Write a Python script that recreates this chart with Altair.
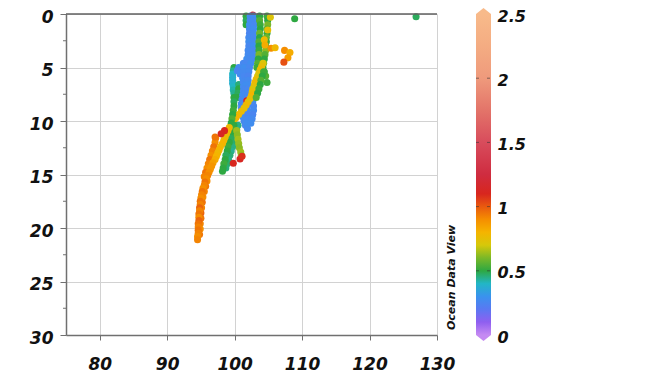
import altair as alt
import pandas as pd

# ---- measured tracks: (x, depth, value) ----
top_specks = [(102.7, 0.1, 1.1), (101.7, 0.2, 0.5), (101.7, 0.6, 0.48), (101.7, 1.0, 0.5)]

cyan_trace = [
    (99.9, 5.0, 0.5), (99.8, 5.3, 0.44), (99.7, 5.6, 0.4), (99.7, 5.9, 0.38), (99.7, 6.2, 0.38),
    (99.7, 6.5, 0.38), (99.8, 6.8, 0.4), (99.8, 7.1, 0.42), (99.9, 7.4, 0.44),
]

cyan_companion = [(100.6, 6.6, 0.46), (100.6, 7.0, 0.5), (100.5, 7.4, 0.48), (100.5, 7.8, 0.5)]

blue_left = [
    (102.3, 0.2, 0.27), (102.3, 0.6, 0.26), (102.2, 1.0, 0.28), (102.2, 1.4, 0.27), (102.2, 1.8, 0.25),
    (102.1, 2.2, 0.27), (102.1, 2.6, 0.28), (102.1, 3.0, 0.26), (102.0, 3.4, 0.27), (102.0, 3.8, 0.27),
    (101.8, 4.2, 0.28), (101.3, 4.6, 0.26), (100.6, 5.0, 0.27), (100.4, 5.3, 0.25), (100.8, 5.6, 0.27),
    (101.2, 6.0, 0.28), (101.3, 6.4, 0.26), (101.3, 6.8, 0.27), (101.3, 7.2, 0.27), (101.2, 7.6, 0.28),
    (101.1, 8.0, 0.26), (101.0, 8.4, 0.27), (101.0, 8.8, 0.25), (101.1, 9.2, 0.27), (101.2, 9.6, 0.28),
    (101.4, 10.0, 0.27), (101.6, 10.4, 0.26), (101.9, 10.7, 0.27),
]

blue_mid = [
    (102.2, 4.2, 0.27), (101.9, 4.6, 0.26), (101.4, 5.0, 0.28), (101.3, 5.4, 0.27), (101.4, 5.8, 0.26),
    (101.6, 6.2, 0.27), (101.7, 6.6, 0.28), (101.7, 7.0, 0.26), (101.6, 7.4, 0.27), (101.6, 7.8, 0.27),
    (101.9, 8.2, 0.28), (101.9, 8.6, 0.26), (101.9, 9.0, 0.27), (101.9, 9.4, 0.25), (101.9, 9.8, 0.27),
    (101.9, 10.2, 0.28),
]

blue_right = [
    (102.8, 0.2, 0.28), (102.9, 0.6, 0.27), (102.9, 1.0, 0.26), (102.8, 1.4, 0.28), (102.8, 1.8, 0.27),
    (102.8, 2.2, 0.26), (102.8, 2.6, 0.27), (102.8, 3.0, 0.28), (102.7, 3.4, 0.26), (102.7, 3.8, 0.27),
    (102.6, 4.2, 0.27), (102.4, 4.6, 0.28), (102.2, 5.0, 0.26), (102.1, 5.4, 0.27), (102.0, 5.8, 0.25),
    (102.0, 6.2, 0.27), (102.0, 6.6, 0.28), (102.0, 7.0, 0.26), (101.9, 7.4, 0.27), (101.9, 7.8, 0.27),
    (102.7, 8.2, 0.28), (102.8, 8.6, 0.26), (102.8, 9.0, 0.27), (102.7, 9.4, 0.25), (102.6, 9.8, 0.27),
    (102.4, 10.2, 0.28),
]

red_small = [(101.8, 8.1, 1.12)]

green_inner = [
    (103.7, 0.2, 0.5), (103.7, 0.6, 0.55), (103.8, 1.0, 0.52), (103.8, 1.4, 0.5), (103.7, 1.8, 0.58),
    (103.7, 2.2, 0.5), (103.6, 2.6, 0.55), (103.6, 3.0, 0.5), (103.6, 3.4, 0.52), (103.6, 3.8, 0.6),
    (103.5, 4.2, 0.5), (103.4, 4.6, 0.55), (103.3, 5.0, 0.52),
]

green_outer = [
    (104.8, 0.2, 0.52), (104.9, 0.6, 0.5), (104.9, 1.0, 0.6), (104.8, 1.4, 0.55), (104.8, 1.8, 0.5),
    (104.7, 2.2, 0.58), (104.7, 2.6, 0.52), (104.6, 3.0, 0.5), (104.6, 3.4, 0.62), (104.5, 3.8, 0.55),
    (104.4, 4.2, 0.5), (104.3, 4.6, 0.58), (104.2, 5.0, 0.52), (104.4, 5.4, 0.5), (104.6, 5.8, 0.55),
    (104.8, 6.4, 0.52),
]

yellow_spots = [(105.3, 0.3, 0.72), (104.9, 1.5, 0.75), (104.4, 2.4, 0.78), (104.5, 2.9, 0.82),
                (105.4, 3.2, 0.9), (106.0, 3.15, 0.78)]

stripe_upper = [
    (104.2, 4.6, 0.72), (104.0, 4.9, 0.75), (103.8, 5.2, 0.78), (103.6, 5.5, 0.74), (103.4, 5.8, 0.72),
    (103.2, 6.1, 0.76), (103.0, 6.4, 0.78), (102.9, 6.7, 0.75), (102.7, 7.0, 0.72), (102.6, 7.3, 0.76),
    (102.5, 7.6, 0.8), (102.3, 7.9, 0.76), (102.0, 8.2, 0.74), (101.7, 8.5, 0.78), (101.4, 8.8, 0.75),
    (101.0, 9.1, 0.76), (100.6, 9.4, 0.78), (100.2, 9.7, 0.8), (99.9, 10.0, 0.78), (99.5, 10.3, 0.76),
]

green_right_low = [(104.3, 5.4, 0.52), (104.1, 5.8, 0.5), (103.9, 6.2, 0.55), (103.8, 6.6, 0.5),
                   (103.6, 7.0, 0.52), (103.4, 7.4, 0.5), (103.2, 7.8, 0.55)]

green_mid = [(99.9, 7.8, 0.5), (99.9, 8.2, 0.48), (99.9, 8.6, 0.5), (99.8, 9.0, 0.52), (99.7, 9.4, 0.5),
             (99.6, 9.8, 0.55), (99.5, 10.2, 0.5)]

green_low_b = [
    (100.5, 10.4, 0.45), (100.3, 10.8, 0.44), (100.2, 11.2, 0.46), (100.0, 11.6, 0.45), (99.8, 12.0, 0.47),
    (99.7, 12.4, 0.45), (99.5, 12.8, 0.44), (99.3, 13.2, 0.46), (99.1, 13.6, 0.45), (98.9, 14.0, 0.47),
    (98.7, 14.4, 0.46),
]

green_low_a = [
    (99.9, 10.4, 0.5), (99.7, 10.8, 0.52), (99.5, 11.2, 0.5), (99.4, 11.6, 0.48), (99.2, 12.0, 0.5),
    (99.0, 12.4, 0.52), (98.9, 12.8, 0.5), (98.7, 13.2, 0.48), (98.6, 13.6, 0.5), (98.4, 14.0, 0.52),
    (98.3, 14.4, 0.5), (98.2, 14.7, 0.5),
]

stripe_west = [
    (97.2, 11.6, 0.92), (97.1, 12.0, 0.9), (96.9, 12.4, 0.95), (96.7, 12.8, 0.92), (96.5, 13.2, 0.9),
    (96.3, 13.6, 0.95), (96.1, 14.0, 0.92), (95.9, 14.4, 0.9), (95.7, 14.8, 0.95), (95.5, 15.2, 0.92),
]

lower_twin = [
    (95.9, 15.6, 0.9), (95.7, 16.1, 0.95), (95.5, 16.6, 0.92), (95.3, 17.1, 0.9), (95.2, 17.6, 0.95),
    (95.1, 18.1, 0.92), (95.0, 18.6, 0.98), (95.0, 19.1, 0.95), (94.9, 19.6, 0.92), (94.9, 20.1, 0.9),
    (94.8, 20.6, 0.95),
]

stripe_lower = [
    (99.2, 10.6, 0.78), (99.0, 10.9, 0.8), (98.8, 11.2, 0.78), (98.6, 11.5, 0.76), (98.4, 11.8, 0.78),
    (98.2, 12.1, 0.8), (97.9, 12.4, 0.78), (97.7, 12.7, 0.8), (97.5, 13.0, 0.78), (97.3, 13.3, 0.8),
    (97.1, 13.6, 0.82), (96.8, 13.9, 0.85), (96.6, 14.2, 0.88), (96.4, 14.5, 0.88), (96.2, 14.8, 0.9),
    (96.0, 15.1, 0.92), (95.8, 15.4, 0.9), (95.6, 15.7, 0.95), (95.5, 16.0, 0.92), (95.3, 16.3, 0.9),
    (95.2, 16.6, 0.95), (95.1, 16.9, 0.92), (95.0, 17.2, 0.9), (94.9, 17.5, 0.95), (94.9, 17.8, 0.92),
    (94.8, 18.1, 0.98), (94.8, 18.4, 0.92), (94.7, 18.7, 0.95), (94.7, 19.0, 0.9), (94.7, 19.3, 0.98),
    (94.6, 19.6, 0.95), (94.6, 19.9, 0.92), (94.6, 20.2, 0.95), (94.6, 20.5, 0.92), (94.5, 20.8, 0.9),
    (94.5, 21.1, 0.92),
]

light_green = [(100.3, 10.9, 0.64), (100.4, 11.3, 0.62), (100.5, 11.7, 0.65), (100.6, 12.1, 0.63),
               (100.7, 12.5, 0.62), (100.9, 12.9, 0.64), (101.0, 13.2, 0.62)]

red_points = [(97.1, 11.5, 0.95), (98.5, 10.9, 1.1), (98.0, 11.2, 1.12),
              (99.8, 13.95, 1.1), (100.8, 13.55, 1.12), (101.1, 13.3, 1.08)]

east_cluster = [(107.4, 3.4, 0.9), (108.2, 3.6, 0.82), (107.9, 4.1, 0.86), (107.3, 4.5, 1.02)]

isolated = [(108.9, 0.45, 0.5), (126.9, 0.25, 0.48)]

# drawing order, back to front
tracks = [top_specks, cyan_trace, cyan_companion, blue_left, blue_mid, blue_right, red_small,
          green_inner, green_outer, yellow_spots, stripe_upper, green_right_low, green_mid,
          green_low_b, green_low_a, stripe_west, lower_twin, stripe_lower, light_green, red_points,
          east_cluster, isolated]

# ---- colour bar definition ----
cb_stops = [0.0, 0.1, 0.2, 0.3, 0.4, 0.5, 0.6, 0.7, 0.8, 0.9, 1.0, 1.1, 1.25, 1.5, 1.75, 2.0, 2.25, 2.5]
cb_colors = ["#c58af2", "#8f5ff0", "#5a78f2", "#3a92ee", "#22b6c6", "#2ea842", "#7ab828", "#d6c80a",
             "#f5b400", "#f58e00", "#e95a0f", "#d8261e", "#cf2c40", "#d84c5c", "#e37469", "#ef9a7c",
             "#f4ac82", "#f8ba8a"]
cb_labels = [0, 0.5, 1, 1.5, 2, 2.5]
cb_inner_ticks = [0.5, 1, 1.5, 2]

x_ticks = [80, 90, 100, 110, 120, 130]
y_ticks = [0, 5, 10, 15, 20, 25, 30]
y_minor = [2.5, 7.5, 12.5, 17.5, 22.5, 27.5]

rows = [{"x": x, "depth": d, "val": v} for tr in tracks for (x, d, v) in tr]
points = pd.DataFrame(rows)
points["order"] = range(len(points))

W, H = 371, 321
FONT = "DejaVu Sans"

y_axis = alt.Axis(values=y_ticks, title=None, grid=True, gridColor="#d2d2d2", gridWidth=1,
                  domainColor="#707070", domainWidth=1.5, tickColor="#707070", tickSize=6,
                  labelFont=FONT, labelFontSize=17, labelFontWeight="bold", labelFontStyle="italic",
                  labelColor="#111111", labelPadding=7, labelOffset=3)
x_axis = alt.Axis(values=x_ticks, title=None, grid=True, gridColor="#d2d2d2", gridWidth=1,
                  domainColor="#707070", domainWidth=1.5, tickColor="#707070", tickSize=5,
                  labelFont=FONT, labelFontSize=17, labelFontWeight="bold", labelFontStyle="italic",
                  labelColor="#111111", labelPadding=16, labelFlush=False)

x_scale = alt.Scale(domain=[75, 130], nice=False, zero=False)
y_scale = alt.Scale(domain=[0, 30], reverse=True, nice=False, zero=False)

scatter = alt.Chart(points).mark_circle(size=50, opacity=1).encode(
    x=alt.X("x:Q", scale=x_scale, axis=x_axis),
    y=alt.Y("depth:Q", scale=y_scale, axis=y_axis),
    color=alt.Color("val:Q", scale=alt.Scale(domain=cb_stops, range=cb_colors, interpolate="rgb"),
                    legend=None),
    order=alt.Order("order:Q"),
)

minor = alt.Chart(pd.DataFrame({"depth": y_minor})).mark_rule(color="#707070", strokeWidth=1).encode(
    y=alt.Y("depth:Q", scale=y_scale, axis=y_axis),
    x=alt.value(-3), x2=alt.value(0),
)

top_edge = alt.Chart(pd.DataFrame({"depth": [0]})).mark_rule(color="#606060", strokeWidth=1.5).encode(
    y=alt.Y("depth:Q", scale=y_scale, axis=y_axis),
)

plot_group = alt.layer(scatter, minor, top_edge)

# ---- colour bar ----
BAR_L, BAR_R = 410, 425
cb_scale = alt.Scale(domain=[0, 2.5], nice=False, zero=False)
cb_axis = alt.Axis(values=cb_labels, format="~g", orient="right", offset=BAR_R - W, title=None,
                   domain=False, ticks=False, grid=False, labelPadding=6, labelOffset=2,
                   labelFont=FONT, labelFontSize=16, labelFontWeight="bold", labelFontStyle="italic",
                   labelColor="#111111")

gradient = alt.Gradient(
    gradient="linear",
    stops=[alt.GradientStop(offset=s / 2.5, color=c) for s, c in zip(cb_stops, cb_colors)],
    x1=0, x2=0, y1=1, y2=0,
)

bar = alt.Chart(pd.DataFrame({"lo": [0.0], "hi": [2.5]})).mark_rect(color=gradient).encode(
    y=alt.Y("lo:Q", scale=cb_scale, axis=cb_axis),
    y2="hi:Q",
    x=alt.value(BAR_L), x2=alt.value(BAR_R),
)

tri_up = alt.Chart(pd.DataFrame({"lo": [2.5]})).mark_point(
    shape="M-1,0L0,-0.8L1,0Z", filled=True, size=225, opacity=1, color=cb_colors[-1], strokeWidth=0
).encode(y=alt.Y("lo:Q", scale=cb_scale, axis=cb_axis), x=alt.value((BAR_L + BAR_R) / 2))

tri_down = alt.Chart(pd.DataFrame({"lo": [0.0]})).mark_point(
    shape="M-1,0L0,0.8L1,0Z", filled=True, size=225, opacity=1, color=cb_colors[0], strokeWidth=0
).encode(y=alt.Y("lo:Q", scale=cb_scale, axis=cb_axis), x=alt.value((BAR_L + BAR_R) / 2))

tick_df = pd.DataFrame({"lo": cb_inner_ticks})
ticks_left = alt.Chart(tick_df).mark_rule(color="#333333", opacity=0.6, strokeWidth=1).encode(
    y=alt.Y("lo:Q", scale=cb_scale, axis=cb_axis), x=alt.value(BAR_L), x2=alt.value(BAR_L + 3))
ticks_right = alt.Chart(tick_df).mark_rule(color="#333333", opacity=0.6, strokeWidth=1).encode(
    y=alt.Y("lo:Q", scale=cb_scale, axis=cb_axis), x=alt.value(BAR_R - 4), x2=alt.value(BAR_R - 1))

brand = alt.Chart(pd.DataFrame({"t": ["Ocean Data View"]})).mark_text(
    angle=270, align="left", baseline="middle", font=FONT, fontSize=11, fontWeight="bold",
    fontStyle="italic", color="#111111"
).encode(text="t:N", x=alt.value(386), y=alt.value(316))

bar_group = alt.layer(bar, tri_up, tri_down, ticks_left, ticks_right, brand)

chart = (
    alt.layer(plot_group, bar_group)
    .resolve_scale(y="independent")
    .properties(
        width=W, height=H,
        autosize=alt.AutoSizeParams(type="none"),
        padding={"left": 66, "top": 14, "right": 666 - 66 - W, "bottom": 384 - 14 - H},
        background="white",
    )
    .configure_view(stroke=None)
)

chart.save("out.html", embed_options={"renderer": "svg", "actions": False})
